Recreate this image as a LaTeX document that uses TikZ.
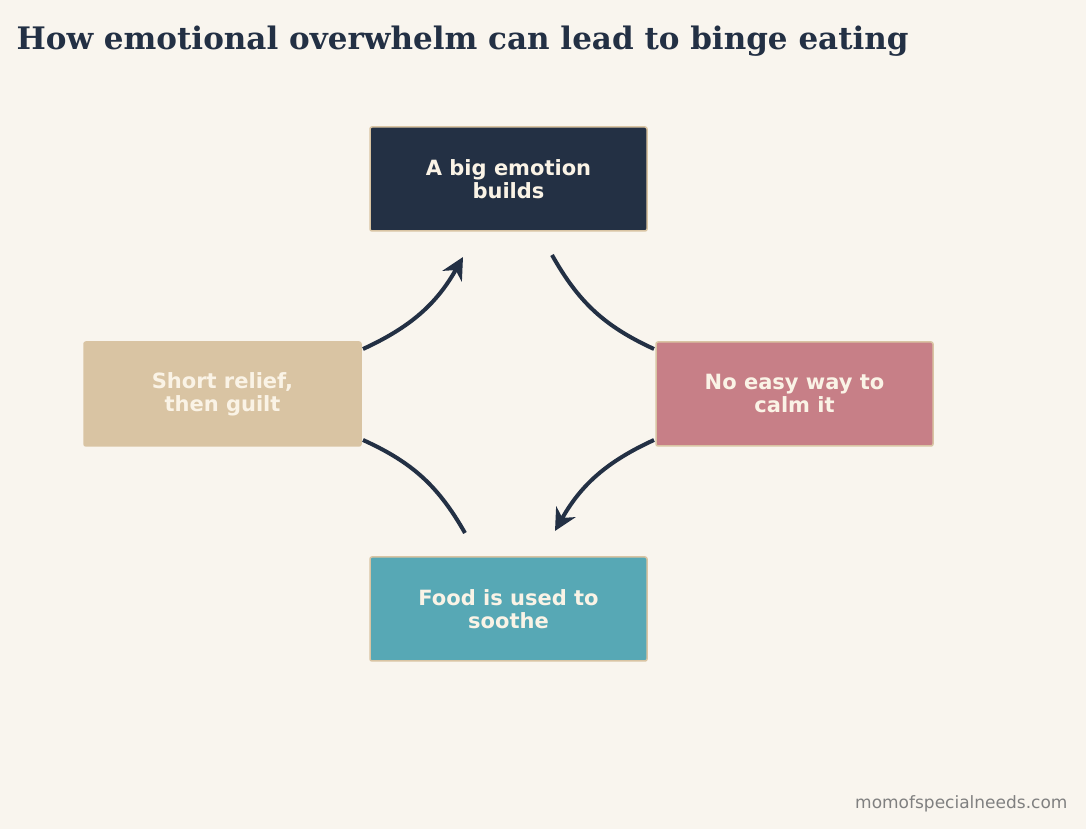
\documentclass[tikz,border=0pt]{standalone}
\usepackage{fontspec}
\setmainfont{DejaVu Serif}
\setsansfont{DejaVu Sans}
\usetikzlibrary{arrows.meta,positioning}
\definecolor{navy}{HTML}{233044}
\definecolor{tan}{HTML}{D9C4A3}
\definecolor{rose}{HTML}{C77F87}
\definecolor{teal}{HTML}{57A8B5}
\definecolor{paper}{HTML}{F9F5EE}
\definecolor{cream}{HTML}{FAF3E6}

\begin{document}
\begin{tikzpicture}[
  x=1pt, y=1pt,
  stage/.style={rectangle, rounded corners=2pt, draw=tan, line width=1.5pt, align=center,
    minimum width=277pt, minimum height=104pt, text=cream,
    font=\sffamily\bfseries\fontsize{21}{23}\selectfont},
  link/.style={navy, line width=4pt},
  arrow/.style={link, -{Stealth[length=22pt,width=22pt,inset=7pt]}}
]
\fill[paper] (0,0) rectangle (1086,829);
\useasboundingbox (0,0) rectangle (1086,829);

\node[anchor=west, text=navy, font=\rmfamily\bfseries\fontsize{31}{34}\selectfont] (title) at (13,788) {How emotional overwhelm can lead to binge eating};

\node[stage, fill=navy] (emotion) at (508.5,650) {A big emotion\\builds};
\node[stage, fill=rose] (calm) at (794.5,435) {No easy way to\\calm it};
\node[stage, fill=teal] (food) at (508.5,220) {Food is used to\\soothe};
\node[stage, fill=tan, draw=tan] (relief) at (222.5,435) {Short relief,\\then guilt};

\coordinate (e1) at (463,572);
\coordinate (e2) at (552,574);
\coordinate (c1) at (654,480);
\coordinate (c2) at (654,389);
\coordinate (f1) at (555,298);
\coordinate (f2) at (465,296);
\coordinate (r1) at (363,389);
\coordinate (r2) at (363,480);

\draw[arrow] (r2) to[bend right=18] (e1);
\draw[link] (e2) to[bend right=18] (c1);
\draw[arrow] (c2) to[bend right=18] (f1);
\draw[link] (f2) to[bend right=18] (r1);

\node[anchor=east, text=gray, font=\sffamily\fontsize{17}{19}\selectfont] (site) at (1071,25) {momofspecialneeds.com};
\end{tikzpicture}
\end{document}
